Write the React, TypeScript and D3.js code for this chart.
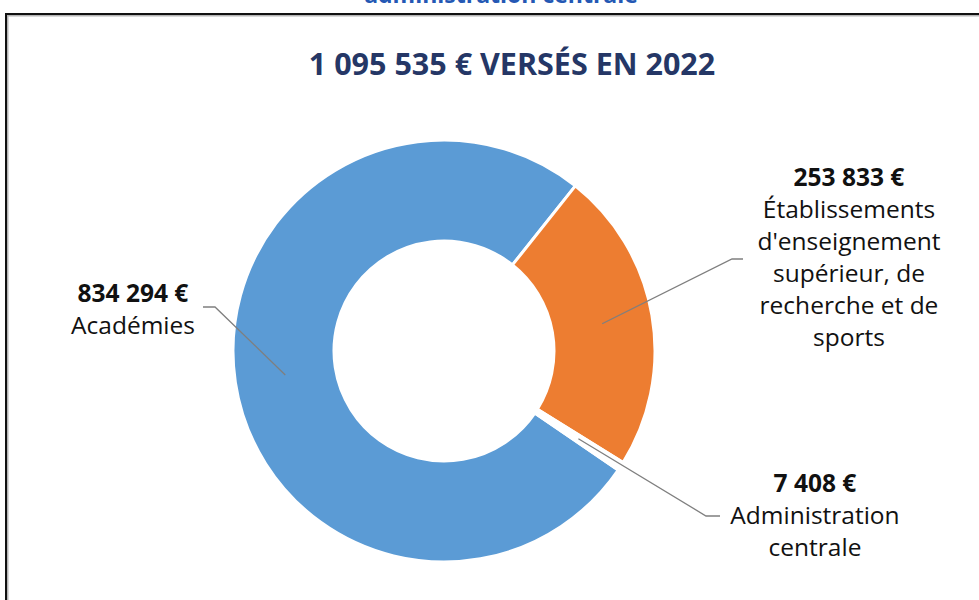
import React, { useEffect, useRef } from 'react';
import * as d3 from 'd3';

// --- DATA ---
const categories = ['Académies', "Établissements d'enseignement supérieur, de recherche et de sports", 'Administration centrale'];
const amounts = [834294, 253833, 7408];
const valueLabels = ['834 294 €', '253 833 €', '7 408 €'];
const nameLines = [
    ['Académies'],
    ['Établissements', "d'enseignement", 'supérieur, de', 'recherche et de', 'sports'],
    ['Administration', 'centrale'],
];
const chartTitle = '1 095 535 € VERSÉS EN 2022';
const clippedTitle = 'administration centrale';

// --- LAYOUT / STYLE ---
const sliceColors = ['#5B9BD5', '#ED7D31', '#FFFFFF'];
const labelLayout = [
    { x: 133, y: 302, elbow: [215, 307], end: [203, 307] },
    { x: 849, y: 186, elbow: [732, 259], end: [743, 259] },
    { x: 815, y: 492, elbow: [706, 516], end: [720, 516] },
];

const W = 979;
const H = 600;

const App = () => {
    const svgRef = useRef<SVGSVGElement | null>(null);

    useEffect(() => {
        if (!svgRef.current) return;
        const svg = d3.select(svgRef.current);
        svg.selectAll('*').remove();

        // clipped heading above the frame
        svg.append('text')
            .attr('x', 501)
            .attr('y', 3)
            .attr('text-anchor', 'middle')
            .attr('font-family', 'Open Sans, sans-serif')
            .attr('font-weight', 700)
            .attr('font-size', 23)
            .attr('fill', '#2458B4')
            .text(clippedTitle);

        // frame (with a soft shadow)
        svg.append('rect')
            .attr('x', 7.5).attr('y', 15.5)
            .attr('width', W + 40).attr('height', H + 40)
            .attr('fill', 'none')
            .attr('stroke', '#b5b5b5')
            .attr('stroke-width', 2);
        svg.append('rect')
            .attr('x', 6).attr('y', 14)
            .attr('width', W + 40).attr('height', H + 40)
            .attr('fill', 'none')
            .attr('stroke', '#111')
            .attr('stroke-width', 2);

        // title
        svg.append('text')
            .attr('x', 512)
            .attr('y', 75)
            .attr('text-anchor', 'middle')
            .attr('font-family', 'Open Sans, sans-serif')
            .attr('font-weight', 700)
            .attr('font-size', 30.5)
            .attr('fill', '#253766')
            .text(chartTitle);

        // --- DONUT ---
        const cx = 444;
        const cy = 351;
        const outerR = 211;
        const innerR = 110;
        const start = (124.35 * Math.PI) / 180;

        const pie = d3.pie<number>()
            .sort(null)
            .value(d => d)
            .startAngle(start)
            .endAngle(start + 2 * Math.PI);
        const arcs = pie(amounts);

        const arc = d3.arc<d3.PieArcDatum<number>>()
            .innerRadius(innerR)
            .outerRadius(outerR);

        const g = svg.append('g').attr('transform', `translate(${cx},${cy})`);

        g.selectAll('path.slice')
            .data(arcs)
            .enter()
            .append('path')
            .attr('class', 'slice')
            .attr('d', arc)
            .attr('fill', (_, i) => sliceColors[i])
            .attr('stroke', '#fff')
            .attr('stroke-width', 3)
            .attr('stroke-linejoin', 'round');

        // --- LEADER LINES ---
        arcs.forEach((a, i) => {
            const [px, py] = arc.centroid(a);
            const lay = labelLayout[i];
            svg.append('polyline')
                .attr('points', `${cx + px},${cy + py} ${lay.elbow[0]},${lay.elbow[1]} ${lay.end[0]},${lay.end[1]}`)
                .attr('fill', 'none')
                .attr('stroke', '#7f7f7f')
                .attr('stroke-width', 1.3);
        });

        // --- LABELS ---
        const lineH = 32;
        categories.forEach((_, i) => {
            const lay = labelLayout[i];
            const t = svg.append('text')
                .attr('text-anchor', 'middle')
                .attr('font-family', 'Open Sans, sans-serif')
                .attr('font-size', 24.5)
                .attr('fill', '#111');
            t.append('tspan')
                .attr('x', lay.x)
                .attr('y', lay.y)
                .attr('font-weight', 700)
                .text(valueLabels[i]);
            nameLines[i].forEach((ln, j) => {
                t.append('tspan')
                    .attr('x', lay.x)
                    .attr('y', lay.y + lineH * (j + 1))
                    .text(ln);
            });
        });
    }, []);

    return (
        <svg
            ref={svgRef}
            width={W}
            height={H}
            style={{ position: 'absolute', left: 0, top: 0, background: '#fff', display: 'block' }}
        />
    );
};

export default App;
